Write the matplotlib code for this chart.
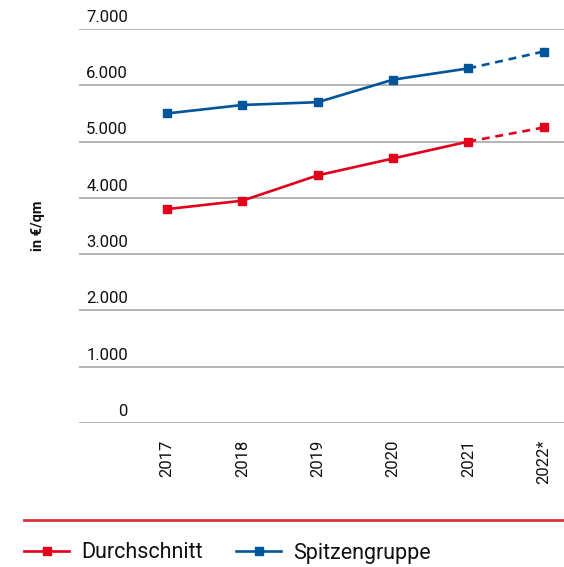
import matplotlib.pyplot as plt
from matplotlib.lines import Line2D
import numpy as np

plt.rcParams['font.family'] = ['Roboto', 'DejaVu Sans']

# data
years = ["2017", "2018", "2019", "2020", "2021", "2022*"]
durchschnitt = [3800, 3950, 4400, 4700, 5000, 5250]
spitzengruppe = [5500, 5650, 5700, 6100, 6300, 6600]
y_ticks = [0, 1000, 2000, 3000, 4000, 5000, 6000, 7000]
y_tick_labels = ["0", "1.000", "2.000", "3.000", "4.000", "5.000", "6.000", "7.000"]

RED = '#e2001a'
BLUE = '#00559b'
GRID = '#b4b4b4'
TXT = '#111111'

W, H = 564, 567
fig = plt.figure(figsize=(W / 100, H / 100), dpi=100)
ax = fig.add_axes([79 / W, 1 - 423 / H, 1 - 79 / W, (423 - 29) / H])

x = np.arange(len(years))
LW, MS = 1.9, 6
# solid part up to 2021, dashed forecast to 2022*
red_line, = ax.plot(x[:-1], durchschnitt[:-1], color=RED, lw=LW, marker='s',
                    ms=MS, clip_on=False, label='Durchschnitt')
ax.plot(x[-2:], durchschnitt[-2:], color=RED, lw=LW, ls=(0, (3, 2.2)),
        clip_on=False)
ax.plot(x[-1:], durchschnitt[-1:], color=RED, marker='s', ms=MS, ls='none', clip_on=False)

blue_line, = ax.plot(x[:-1], spitzengruppe[:-1], color=BLUE, lw=LW, marker='s',
                     ms=MS, clip_on=False, label='Spitzengruppe')
ax.plot(x[-2:], spitzengruppe[-2:], color=BLUE, lw=LW, ls=(0, (3, 2.2)),
        clip_on=False)
ax.plot(x[-1:], spitzengruppe[-1:], color=BLUE, marker='s', ms=MS, ls='none', clip_on=False)

ax.set_xlim(-1.17, 5.27)
ax.set_ylim(0, 7000)
ax.set_yticks(y_ticks)
ax.yaxis.grid(True, color=GRID, lw=1.4)
ax.set_axisbelow(True)
ax.tick_params(axis='y', length=0, labelleft=False)
for v, lab in zip(y_ticks, y_tick_labels):
    ax.annotate(lab, xy=(0.101, v), xycoords=('axes fraction', 'data'),
                xytext=(0, 3), textcoords='offset points',
                ha='right', va='bottom', fontsize=12, color=TXT)

ax.set_xticks(x)
ax.set_xticklabels(years, rotation=90, fontsize=12, color=TXT)
ax.tick_params(axis='x', length=0, pad=12)
for s in ax.spines.values():
    s.set_visible(False)

fig.text(38 / W, 1 - 226 / H, "in €/qm", rotation=90, ha='center', va='center',
         fontsize=10.5, fontweight='bold', color=TXT)

# red separator line above the legend
fig.add_artist(Line2D([24 / W, 1], [1 - 520 / H, 1 - 520 / H], color='#d73440', lw=2))

fig.legend(handles=[red_line, blue_line], loc='center left',
           bbox_to_anchor=(24 / W, 1 - 553 / H), ncol=2, frameon=False,
           borderpad=0, borderaxespad=0,
           fontsize=15.5, handlelength=2.1, handletextpad=0.55, columnspacing=1.55,
           labelcolor=TXT)

fig.savefig('out.png', dpi=100)
